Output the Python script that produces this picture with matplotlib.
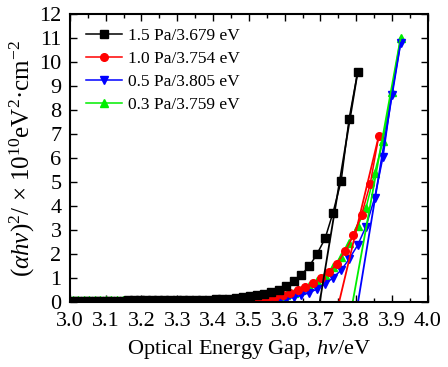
import matplotlib
matplotlib.use("Agg")
import matplotlib.pyplot as plt
from matplotlib.ticker import MultipleLocator

plt.rcParams['font.family'] = ['Liberation Serif', 'DejaVu Serif']
plt.rcParams['mathtext.fontset'] = 'custom'
plt.rcParams['mathtext.rm'] = 'Liberation Serif'
plt.rcParams['mathtext.it'] = 'Liberation Serif:italic'

# ---- data ----
black_x = [3.804, 3.780, 3.758, 3.735, 3.713, 3.690, 3.669, 3.647, 3.626, 3.605,
           3.584, 3.563, 3.543, 3.523, 3.503, 3.483, 3.464, 3.444, 3.425, 3.407,
           3.388, 3.370, 3.351, 3.333, 3.316, 3.298, 3.280, 3.263, 3.246, 3.229,
           3.212, 3.196, 3.179, 3.163, 3.147, 3.131, 3.116, 3.100, 3.085, 3.069,
           3.054, 3.039, 3.024, 3.010]
black_y = [9.58, 7.63, 5.06, 3.72, 2.65, 1.99, 1.50, 1.14, 0.87, 0.68,
           0.52, 0.42, 0.35, 0.28, 0.24, 0.20, 0.16, 0.14, 0.12, 0.11,
           0.10, 0.095, 0.09, 0.085, 0.08, 0.08, 0.075, 0.075, 0.07, 0.07,
           0.07, 0.068, 0.066, 0.065, 0.064, 0.063, 0.062, 0.061, 0.06, 0.06,
           0.06, 0.06, 0.06, 0.06]

red_x = [3.863, 3.839, 3.815, 3.792, 3.769, 3.746, 3.724, 3.701, 3.680, 3.658,
         3.636, 3.615, 3.594, 3.573, 3.553, 3.533, 3.513, 3.493, 3.473, 3.454,
         3.435, 3.416, 3.397, 3.379, 3.360, 3.342, 3.324, 3.307, 3.289, 3.272,
         3.255, 3.238, 3.221, 3.204, 3.188, 3.171, 3.155, 3.139, 3.123, 3.108,
         3.092, 3.077, 3.062, 3.047, 3.032, 3.017, 3.002]
red_y = [6.92, 4.92, 3.64, 2.78, 2.11, 1.60, 1.24, 0.99, 0.78, 0.61,
         0.49, 0.38, 0.30, 0.22, 0.18, 0.14, 0.10, 0.07, 0.05, 0.04,
         0.035, 0.03, 0.03, 0.025, 0.025, 0.02, 0.02, 0.02, 0.02, 0.02,
         0.02, 0.02, 0.02, 0.02, 0.02, 0.02, 0.02, 0.02, 0.02, 0.02,
         0.02, 0.02, 0.02, 0.02, 0.02, 0.02, 0.02]

blue_x = [3.924, 3.899, 3.875, 3.851, 3.827, 3.804, 3.780, 3.758, 3.735, 3.713,
          3.690, 3.669, 3.647, 3.626, 3.605, 3.584, 3.563, 3.543, 3.523, 3.503,
          3.483, 3.464, 3.444, 3.425, 3.407, 3.388, 3.370, 3.351, 3.333, 3.316,
          3.298, 3.280, 3.263, 3.246, 3.229, 3.212, 3.196, 3.179, 3.163, 3.147,
          3.131, 3.116, 3.100, 3.085, 3.069, 3.054, 3.039, 3.024, 3.010]
blue_y = [10.80, 8.63, 6.06, 4.32, 3.14, 2.37, 1.79, 1.33, 1.01, 0.75,
          0.54, 0.39, 0.28, 0.20, 0.125, 0.07, 0.04, 0.02, 0.01, 0.01,
          0.01, 0.01, 0.01, 0.01, 0.01, 0.01, 0.01, 0.01, 0.01, 0.01,
          0.01, 0.01, 0.01, 0.01, 0.01, 0.01, 0.01, 0.01, 0.01, 0.01,
          0.01, 0.01, 0.01, 0.01, 0.01, 0.01, 0.01, 0.01, 0.01]

green_x = blue_x
green_y = [11.00, 8.75, 6.72, 5.36, 3.90, 3.17, 2.44, 1.89, 1.47, 1.12,
           0.875, 0.67, 0.51, 0.39, 0.29, 0.21, 0.15, 0.11, 0.09, 0.08,
           0.08, 0.08, 0.08, 0.08, 0.08, 0.08, 0.08, 0.08, 0.08, 0.08,
           0.08, 0.08, 0.08, 0.08, 0.08, 0.08, 0.08, 0.08, 0.08, 0.08,
           0.08, 0.08, 0.08, 0.08, 0.08, 0.08, 0.08, 0.08, 0.08]

# linear-fit lines (intercept to top point)
fit_black_x = [3.698, 3.804]
fit_black_y = [0.0, 9.58]
fit_red_x = [3.752, 3.863]
fit_red_y = [0.0, 6.92]
fit_green_x = [3.790, 3.924]
fit_green_y = [0.0, 11.0]
fit_blue_x = [3.805, 3.924]
fit_blue_y = [0.0, 10.8]

labels = ['1.5 Pa/3.679 eV', '1.0 Pa/3.754 eV', '0.5 Pa/3.805 eV', '0.3 Pa/3.759 eV']
x_ticks = [3.0, 3.1, 3.2, 3.3, 3.4, 3.5, 3.6, 3.7, 3.8, 3.9, 4.0]
y_ticks = list(range(0, 13))

# ---- figure ----
fig = plt.figure(figsize=(4.48, 3.67), dpi=100)
ax = fig.add_axes([0.156, 0.177, 0.799, 0.785])

GREEN = '#00ee00'
BLUE = '#0000ff'
RED = '#ff0000'

lw = 1.1
l1, = ax.plot(black_x, black_y, '-s', color='black', ms=5.2, lw=lw, zorder=6, label=labels[0])
l2, = ax.plot(red_x, red_y, '-o', color=RED, ms=5.5, lw=lw, zorder=5, label=labels[1])
l3, = ax.plot(blue_x, blue_y, '-v', color=BLUE, ms=6, lw=lw, zorder=4, label=labels[2])
l4, = ax.plot(green_x, green_y, '-^', color=GREEN, ms=6, lw=lw, zorder=3, label=labels[3])

ax.plot(fit_black_x, fit_black_y, color='black', lw=1.3, zorder=7)
ax.plot(fit_red_x, fit_red_y, color=RED, lw=1.3, zorder=7)
ax.plot(fit_green_x, fit_green_y, color=GREEN, lw=1.3, zorder=7)
ax.plot(fit_blue_x, fit_blue_y, color=BLUE, lw=1.3, zorder=7)

ax.set_xlim(3.0, 4.0)
ax.set_ylim(0, 12)
ax.set_xticks(x_ticks)
ax.set_xticklabels([f'{v:.1f}' for v in x_ticks])
ax.set_yticks(y_ticks)
ax.xaxis.set_minor_locator(MultipleLocator(0.05))
ax.tick_params(which='both', direction='in', top=True, right=True, labelsize=16)
ax.tick_params(axis='x', which='major', length=5, width=1.0, pad=7)
ax.tick_params(axis='y', which='major', length=5, width=1.0, pad=6)
ax.tick_params(which='minor', length=3, width=1.0)
for s in ax.spines.values():
    s.set_linewidth(1.5)
    s.set_zorder(8)

ax.set_xlabel(r'Optical Energy Gap, $hv$/eV', fontsize=16, labelpad=5)
ax.set_ylabel(r'$(\alpha hv)^2$/ × 10$^{10}$eV$^2$·cm$^{-2}$', fontsize=18, labelpad=2)

ax.legend(handles=[l1, l2, l3, l4], loc='upper left', frameon=False, fontsize=12.5,
          handlelength=2.1, handletextpad=0.35, labelspacing=0.4,
          borderaxespad=0.0, bbox_to_anchor=(0.025, 0.977))

fig.savefig('out.png', dpi=100)
